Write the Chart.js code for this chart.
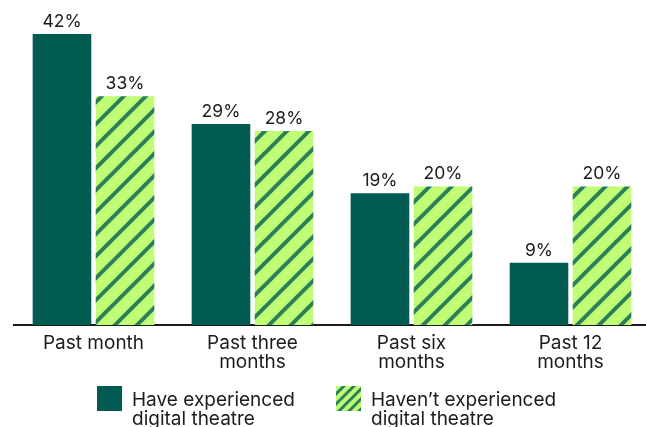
<!DOCTYPE html>
<html>
<head>
<meta charset="utf-8">
<script src="https://cdn.jsdelivr.net/npm/chart.js@4"></script>
<style>
  html, body { margin: 0; padding: 0; background: #fff; overflow: hidden; }
  #wrap { position: relative; width: 646px; height: 427px; overflow: hidden; }
  canvas { display: block; }
</style>
</head>
<body>
<div id="wrap"><canvas id="c" width="652" height="427"></canvas></div>
<script>
const categories = [["Past month"], ["Past three", "months"], ["Past six", "months"], ["Past 12", "months"]];
const seriesNames = [["Have experienced", "digital theatre"], ["Haven\u2019t experienced", "digital theatre"]];
const experienced = [42, 29, 19, 9];
const notExperienced = [33, 28, 20, 20];

const DARK = "#025b51";
const LIGHT = "#c1fc76";
const STRIPE = "#2a8157";
const FONT = "Inter, 'Open Sans', sans-serif";
const TEXT = "#1c1c1c";

function makeStripes(size, width) {
  const p = document.createElement("canvas");
  p.width = size; p.height = size;
  const g = p.getContext("2d");
  g.fillStyle = LIGHT;
  g.fillRect(0, 0, size, size);
  g.strokeStyle = STRIPE;
  g.lineWidth = width;
  g.lineCap = "square";
  for (let k = -1; k <= 1; k++) {
    g.beginPath();
    g.moveTo(k * size, size);
    g.lineTo(k * size + size, 0);
    g.stroke();
  }
  return g.createPattern(p, "repeat");
}

const ctx = document.getElementById("c").getContext("2d");
const barHatch = makeStripes(22, 4);
const swatchHatch = makeStripes(10, 3);

// value labels above each bar
const valueLabels = {
  id: "valueLabels",
  afterDatasetsDraw(chart) {
    const c = chart.ctx;
    c.save();
    c.font = "17.5px " + FONT;
    c.fillStyle = TEXT;
    c.textAlign = "center";
    c.textBaseline = "alphabetic";
    chart.data.datasets.forEach((ds, i) => {
      chart.getDatasetMeta(i).data.forEach((bar, j) => {
        c.fillText(ds.data[j] + "%", bar.x, bar.y - 7);
      });
    });
    c.restore();
  }
};

// two-line legend under the axis
const bottomLegend = {
  id: "bottomLegend",
  afterDraw(chart) {
    const c = chart.ctx;
    const items = [
      { x: 97, fill: DARK },
      { x: 336, fill: swatchHatch }
    ];
    c.save();
    chart.data.datasets.forEach((ds, i) => {
      const it = items[i];
      c.fillStyle = it.fill;
      c.fillRect(it.x, 386, 25, 25);
      c.fillStyle = TEXT;
      c.font = "19px " + FONT;
      c.textAlign = "left";
      c.textBaseline = "alphabetic";
      ds.label.forEach((line, k) => {
        c.fillText(line, it.x + 35, 406 + k * 18.5);
      });
    });
    c.restore();
  }
};

new Chart(ctx, {
  type: "bar",
  data: {
    labels: categories,
    datasets: [
      { label: seriesNames[0], data: experienced, backgroundColor: DARK },
      { label: seriesNames[1], data: notExperienced, backgroundColor: barHatch }
    ]
  },
  options: {
    responsive: false,
    animation: false,
    events: [],
    categoryPercentage: 0.793,
    barPercentage: 0.93,
    layout: { padding: { left: 14, right: 2, top: 34, bottom: 0 } },
    plugins: { legend: { display: false }, tooltip: { enabled: false } },
    scales: {
      x: {
        grid: { display: false, drawTicks: false },
        border: { display: true, color: "#1a1a1a", width: 2 },
        ticks: {
          color: TEXT,
          font: { family: FONT, size: 19, lineHeight: 1.0 },
          padding: 8.5,
          maxRotation: 0,
          autoSkip: false
        },
        afterFit(scale) { scale.height = 102; }
      },
      y: {
        display: false,
        min: 0,
        max: 42
      }
    }
  },
  plugins: [valueLabels, bottomLegend]
});
</script>
</body>
</html>
